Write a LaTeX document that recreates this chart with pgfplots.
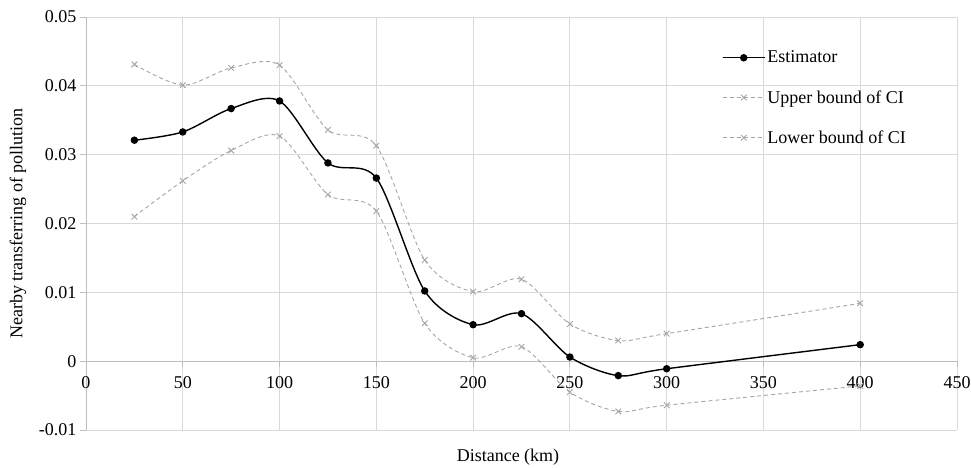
\documentclass[border=0pt]{standalone}
\usepackage{fontspec}
\setmainfont{Liberation Serif}
\usepackage{pgfplots}
\pgfplotsset{compat=1.18}
\definecolor{gridgray}{RGB}{217,217,217}
\definecolor{axisgray}{RGB}{190,190,190}
\definecolor{cigray}{RGB}{165,165,165}
\newcommand{\chartfont}{\fontsize{18}{22}\selectfont}

\begin{document}
\begin{tikzpicture}
\path[use as bounding box] (-86pt,-38pt) rectangle (885pt,430pt);
\begin{axis}[
    scale only axis,
    width=871pt, height=413pt,
    at={(0,0)}, anchor=south west,
    xmin=0, xmax=450,
    ymin=-0.01, ymax=0.05,
    axis x line=middle,
    axis y line=left,
    axis line style={axisgray, line width=0.9pt, -},
    hide obscured x ticks=false,
    hide obscured y ticks=false,
    scaled y ticks=false,
    xtick={0,50,100,150,200,250,300,350,400,450},
    xticklabels={0,50,100,150,200,250,300,350,400,450},
    ytick={-0.01,0,0.01,0.02,0.03,0.04,0.05},
    yticklabels={-0.01,0,0.01,0.02,0.03,0.04,0.05},
    tick align=outside,
    major tick length=6pt,
    tick style={axisgray, line width=0.9pt},
    grid=major,
    grid style={gridgray, line width=0.9pt},
    tick label style={font=\chartfont, black},
    x tick label style={yshift=-6pt},
    every axis x label/.style={at={(axis description cs:0.4845,0)}, anchor=center, yshift=-27pt, font=\chartfont},
    every axis y label/.style={at={(axis description cs:0,0.5)}, xshift=-68pt, rotate=90, anchor=center, font=\chartfont},
    xlabel={Distance (km)},
    ylabel={Nearby transferring of pollution},
    legend style={at={(axis description cs:0.73,0.804)}, anchor=west, draw=none, fill=none,
        font=\chartfont, row sep=22pt, inner sep=0pt, cells={anchor=west}},
    legend image code/.code={\draw[mark repeat=2,mark phase=2,#1] plot coordinates {(0pt,0pt)(21pt,0pt)(42pt,0pt)};},
]
\addplot[black, line width=1.4pt, smooth, tension=0.5, mark=*, mark size=3pt]
coordinates {
(25,0.0321) (50,0.0333) (75,0.0367) (100,0.0378) (125,0.0288) (150,0.0266)
(175,0.0102) (200,0.0053) (225,0.0069) (250,0.0006) (275,-0.0021) (300,-0.0011)
(400,0.0024)
};
\addlegendentry{Estimator}

\addplot[cigray, line width=0.9pt, dash pattern=on 4pt off 3pt, smooth, tension=0.5,
    mark=x, mark size=4pt, mark options={solid}]
coordinates {
(25,0.0431) (50,0.0401) (75,0.0426) (100,0.0430) (125,0.0336) (150,0.0313)
(175,0.0147) (200,0.0101) (225,0.0119) (250,0.0054) (275,0.0030) (300,0.0040)
(400,0.0084)
};
\addlegendentry{Upper bound of CI}

\addplot[cigray, line width=0.9pt, dash pattern=on 4pt off 3pt, smooth, tension=0.5,
    mark=x, mark size=4pt, mark options={solid}]
coordinates {
(25,0.0210) (50,0.0262) (75,0.0306) (100,0.0327) (125,0.0242) (150,0.0218)
(175,0.0055) (200,0.0005) (225,0.0021) (250,-0.0045) (275,-0.0073) (300,-0.0064)
(400,-0.0036)
};
\addlegendentry{Lower bound of CI}
\end{axis}
\end{tikzpicture}
\end{document}
